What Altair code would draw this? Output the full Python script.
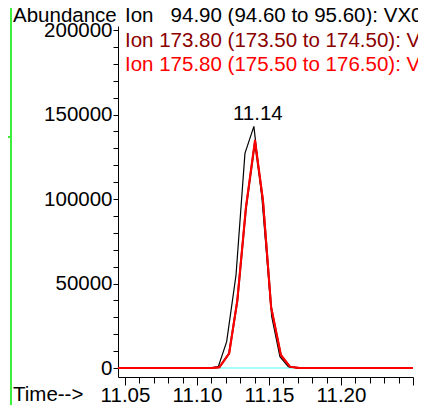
import altair as alt
import pandas as pd

# ---- data ----
# Ion 94.90 (black)
t_9490 = [11.0451, 11.1090, 11.1148, 11.1206, 11.1271, 11.1333, 11.1395, 11.1451, 11.1519, 11.1576, 11.1634, 11.1700, 11.2500]
a_9490 = [0, 0, 800, 15600, 55000, 127000, 143000, 100600, 30400, 6700, 800, 0, 0]
# Ion 173.80 (dark red, mostly hidden under 175.80)
t_17380 = [11.0451, 11.1100, 11.1155, 11.1222, 11.1280, 11.1340, 11.1402, 11.1458, 11.1515, 11.1582, 11.1645, 11.1710, 11.2500]
a_17380 = [0, 0, 400, 8500, 39500, 94500, 133500, 99000, 36000, 7500, 700, 0, 0]
# Ion 175.80 (red)
t_17580 = [11.0451, 11.1100, 11.1155, 11.1224, 11.1280, 11.1340, 11.1403, 11.1458, 11.1514, 11.1583, 11.1646, 11.1710, 11.2500]
a_17580 = [0, 0, 400, 8700, 40200, 95400, 135000, 99400, 36300, 7700, 800, 0, 0]

series_names = ["94.90", "173.80", "175.80"]
series_colors = ["#000000", "#8B0000", "#FF0000"]
series_widths = [1.2, 2, 2]

legend_texts = [
    "Ion\u00a0\u00a0\u00a094.90 (94.60 to 95.60): VX01.D",
    "Ion 173.80 (173.50 to 174.50): VX01.D",
    "Ion 175.80 (175.50 to 176.50): VX01.D",
]

peak_time = [11.1395]
peak_abund = [143000]
peak_label = ["11.14"]

baseline_start = [11.1160]
baseline_end = [11.1667]

x_tick_values = [round(11.05 + i * 0.01, 2) for i in range(21)]
y_tick_values = list(range(0, 200001, 10000))

FONT = "Liberation Sans"
FS = 20.5

xscale = alt.Scale(domain=[11.04514, 11.25], nice=False, zero=False)
yscale = alt.Scale(domain=[-5325, 202367], nice=False, zero=False)

x_axis = alt.Axis(
    values=x_tick_values,
    labelExpr="(round(datum.value*100) % 5 == 0 && datum.value < 11.245) ? format(datum.value, '.2f') : ''",
    tickSize={"condition": {"test": "round(datum.value*100) % 5 == 0", "value": 8}, "value": 6},
    tickColor="black", domainColor="black", tickWidth=1, domainWidth=1,
    labelFont=FONT, labelFontSize=FS, labelColor="black", labelBaseline="alphabetic",
    labelPadding=16, labelOverlap=False, labelFlush=False, grid=False, title=None,
)
y_axis = alt.Axis(
    values=y_tick_values,
    labelExpr="(datum.value % 50000 == 0) ? format(datum.value, 'd') : ''",
    tickSize=5, tickColor="black", domainColor="black", tickWidth=1, domainWidth=1,
    labelFont=FONT, labelFontSize=FS, labelColor="black",
    labelPadding=1, labelOverlap=False, labelFlush=False, grid=False, title=None,
)

X = lambda f: alt.X(f, scale=xscale, axis=x_axis)
Y = lambda f: alt.Y(f, scale=yscale, axis=y_axis)

def line_layer(times, vals, color, width):
    df = pd.DataFrame({"t": times, "a": vals})
    return alt.Chart(df).mark_line(color=color, strokeWidth=width, interpolate="linear").encode(
        x=X("t:Q"), y=Y("a:Q"))

# integration baseline (cyan)
bl = alt.Chart(pd.DataFrame({"t0": baseline_start, "t1": baseline_end, "a": [0]})).mark_rule(
    color="#A8FFFF", strokeWidth=2
).encode(x=X("t0:Q"), x2="t1:Q", y=Y("a:Q"))

l_black = line_layer(t_9490, a_9490, series_colors[0], series_widths[0])
l_dred = line_layer(t_17380, a_17380, series_colors[1], series_widths[1])
l_red = line_layer(t_17580, a_17580, series_colors[2], series_widths[2])

peak = alt.Chart(pd.DataFrame({"t": peak_time, "a": peak_abund, "label": peak_label})).mark_text(
    font=FONT, fontSize=FS, color="black", align="center", baseline="alphabetic", dx=4, dy=-6
).encode(x=X("t:Q"), y=Y("a:Q"), text="label:N")

legend_df = pd.DataFrame({"label": legend_texts, "color": series_colors, "yy": [-4, 21, 45]})
legend = alt.Chart(legend_df).mark_text(
    font=FONT, fontSize=FS, align="left", baseline="alphabetic"
).encode(
    x=alt.value(7),
    y=alt.Y("yy:Q", scale=None, axis=None),
    text="label:N",
    color=alt.Color("color:N", scale=None, legend=None),
)

titles_df = pd.DataFrame({"label": ["Abundance", "Time-->"], "xx": [-105, -105], "yy": [-4, 375]})
titles = alt.Chart(titles_df).mark_text(
    font=FONT, fontSize=FS, align="left", baseline="alphabetic", color="black"
).encode(
    x=alt.X("xx:Q", scale=None, axis=None),
    y=alt.Y("yy:Q", scale=None, axis=None),
    text="label:N",
)

GREEN = "#3CF03C"
green_v = alt.Chart(pd.DataFrame({"k": [0]})).mark_rule(color=GREEN, strokeWidth=2).encode(
    x=alt.value(-107), y=alt.value(-30), y2=alt.value(386)
)
green_s = alt.Chart(pd.DataFrame({"k": [0]})).mark_rule(color=GREEN, strokeWidth=2).encode(
    x=alt.value(-120), x2=alt.value(-107), y=alt.value(111)
)

chart = alt.layer(
    bl, l_black, l_dred, l_red, peak, legend, titles, green_v, green_s
).properties(
    width=295, height=351,
    padding={"left": 110, "top": 18, "right": 5, "bottom": 28},
    autosize=alt.AutoSizeParams(type="none"),
    background="white",
).configure_view(stroke=None)

chart.save("out.html", embed_options={"renderer": "svg", "actions": False})
